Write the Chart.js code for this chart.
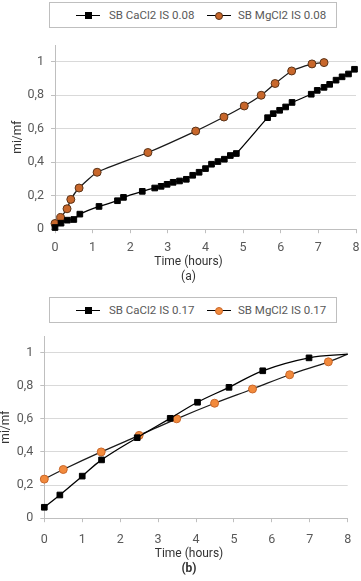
<!DOCTYPE html>
<html>
<head>
<meta charset="utf-8">
<script src="https://cdn.jsdelivr.net/npm/chart.js@4.4.1/dist/chart.umd.min.js"></script>
<style>
    html, body { margin: 0; padding: 0; background: #fff; overflow: hidden; }
    body { width: 361px; height: 581px; position: relative; font-family: Roboto, sans-serif; }
    .chart-box { position: absolute; left: 0; width: 361px; }
    .legend {
        position: absolute; left: 49px; width: 286px; height: 24px;
        border: 1px solid #bfbfbf; background: #fff; z-index: 2;
    }
    .legend .item { position: absolute; top: 0; height: 24px; }
    .legend .line { position: absolute; top: 12px; width: 24px; border-top: 1.3px solid #000; }
    .legend .mark { position: absolute; }
    .legend .sq { width: 7px; height: 7px; background: #000; top: 9px; left: 9px; }
    .legend .dot { width: 7px; height: 7px; border-radius: 50%; top: 8.5px; left: 8px; }
    .legend .txt { position: absolute; top: 5px; font-size: 11.5px; color: #595959; white-space: nowrap; }
</style>
</head>
<body>
<div class="legend" id="legend-a" style="top:2px;"></div>
<div class="chart-box" style="top:0; height:284px;"><canvas id="chart-a"></canvas></div>

<div class="legend" id="legend-b" style="top:297px;"></div>
<div class="chart-box" style="top:285px; height:291px;"><canvas id="chart-b"></canvas></div>

<script>
// (a) IS 0.08
const labelsA = ['SB CaCl2 IS 0.08', 'SB MgCl2 IS 0.08'];
const caTimeA = [0, 0.16, 0.33, 0.5, 0.66, 1.17, 1.66, 1.82, 2.32, 2.65, 2.82, 2.98, 3.14, 3.31, 3.49, 3.66, 3.83,
    4.0, 4.16, 4.33, 4.5, 4.66, 4.82, 5.65, 5.8, 5.97, 6.13, 6.3, 6.81, 6.97, 7.15, 7.3, 7.47, 7.63, 7.8, 7.96];
const caRatioA = [0.01, 0.036, 0.054, 0.058, 0.09, 0.136, 0.17, 0.19, 0.226, 0.246, 0.256, 0.268, 0.28, 0.288, 0.298, 0.322, 0.34,
    0.362, 0.388, 0.404, 0.418, 0.44, 0.452, 0.666, 0.69, 0.71, 0.73, 0.757, 0.806, 0.829, 0.847, 0.865, 0.89, 0.91, 0.927, 0.955];
const mgTimeA = [0, 0.15, 0.32, 0.42, 0.64, 1.12, 2.47, 3.74, 4.49, 5.03, 5.48, 5.85, 6.29, 6.83, 7.15];
const mgRatioA = [0.034, 0.07, 0.122, 0.178, 0.246, 0.34, 0.458, 0.586, 0.67, 0.736, 0.80, 0.87, 0.945, 0.987, 0.995];

// (b) IS 0.17
const labelsB = ['SB CaCl2 IS 0.17', 'SB MgCl2 IS 0.17'];
const caTimeB = [0, 0.41, 1.0, 1.51, 2.45, 3.32, 4.04, 4.87, 5.76, 6.98, 8];
const caRatioB = [0.066, 0.14, 0.254, 0.352, 0.486, 0.603, 0.70, 0.79, 0.89, 0.968, 0.99];
const mgTimeB = [0, 0.5, 1.5, 2.5, 3.49, 4.49, 5.49, 6.47, 7.49, 8];
const mgRatioB = [0.236, 0.294, 0.40, 0.50, 0.60, 0.694, 0.78, 0.866, 0.944, 0.99];

// 軸の目盛り
const yTicks = [0, 0.2, 0.4, 0.6, 0.8, 1];
const xTitle = 'Time (hours)';
const yTitle = 'mi/mf';

const GRID = '#d9d9d9';
const AXIS = '#bfbfbf';
const TEXT = '#595959';

function toPoints(xs, ys) {
    return xs.map((x, i) => ({ x, y: ys[i] }));
}

// 凡例 (枠付き) を HTML で作る
function buildLegend(id, labels, orange, orangeEdge) {
    const el = document.getElementById(id);
    el.innerHTML = `
        <div class="item" style="left:26px;">
            <span class="line"></span><span class="mark sq"></span>
            <span class="txt" style="left:33px;">${labels[0]}</span>
        </div>
        <div class="item" style="left:157px;">
            <span class="line"></span>
            <span class="mark dot" style="background:${orange};border:1px solid ${orangeEdge};width:6px;height:6px;"></span>
            <span class="txt" style="left:31px;">${labels[1]}</span>
        </div>`;
}

function makeChart(canvasId, o) {
    const lastHidden = len => ctx => (o.hideLast && ctx.dataIndex === len - 1) ? 0 : o.radius;
    return new Chart(document.getElementById(canvasId), {
        type: 'scatter',
        data: {
            datasets: [{
                label: o.labels[0],
                data: toPoints(o.caX, o.caY),
                showLine: true,
                borderColor: '#000',
                borderWidth: 1.3,
                tension: o.tension,
                pointStyle: 'rect',
                pointRadius: lastHidden(o.caX.length),
                pointBackgroundColor: '#000',
                pointBorderColor: '#000',
                pointBorderWidth: 1,
                clip: false
            }, {
                label: o.labels[1],
                data: toPoints(o.mgX, o.mgY),
                showLine: true,
                borderColor: '#1a1a1a',
                borderWidth: 1.3,
                tension: o.tension,
                pointStyle: 'circle',
                pointRadius: lastHidden(o.mgX.length),
                pointBackgroundColor: o.orange,
                pointBorderColor: o.orangeEdge,
                pointBorderWidth: 1,
                clip: false
            }]
        },
        options: {
            responsive: true,
            maintainAspectRatio: false,
            animation: false,
            layout: { padding: { left: o.padLeft, right: 0, top: o.padTop, bottom: 0 } },
            plugins: {
                legend: { display: false },
                tooltip: { enabled: false },
                title: {
                    display: true, position: 'bottom', text: o.caption, color: '#333',
                    font: { family: 'Roboto', size: 12, weight: o.captionWeight, lineHeight: 1.2 },
                    padding: { top: 0, bottom: 0 }
                },
                subtitle: {
                    display: true, position: 'bottom', text: xTitle, color: '#333',
                    font: { family: 'Roboto', size: 12, lineHeight: 1.2 },
                    padding: { top: 1, bottom: 0 }
                }
            },
            scales: {
                x: {
                    type: 'linear', min: 0, max: 8,
                    ticks: { stepSize: 1, color: TEXT, padding: o.xTickPad, font: { family: 'Roboto', size: 12.5 } },
                    grid: { drawOnChartArea: false, drawTicks: true, tickLength: 4, color: AXIS },
                    border: { color: AXIS },
                    afterFit: s => { s.height = o.xHeight; s.paddingRight = o.rightGap; }
                },
                y: {
                    type: 'linear', min: 0, max: 1.1,
                    afterBuildTicks: s => { s.ticks = yTicks.map(v => ({ value: v })); },
                    ticks: {
                        color: TEXT, padding: 7, font: { family: 'Roboto', size: 12.5 },
                        callback: v => String(v).replace('.', ',')
                    },
                    grid: { color: GRID, tickLength: 4, tickColor: AXIS },
                    border: { color: AXIS },
                    title: {
                        display: true, text: yTitle, color: '#333',
                        font: { family: 'Roboto', size: 12, lineHeight: 1 },
                        padding: { top: o.yTitlePad, bottom: 0 }
                    },
                    afterFit: s => { s.width = o.yWidth; }
                }
            }
        }
    });
}

buildLegend('legend-a', labelsA, '#c8672b', '#5a3318');
buildLegend('legend-b', labelsB, '#f28a3c', '#c8672b');

makeChart('chart-a', {
    labels: labelsA, caX: caTimeA, caY: caRatioA, mgX: mgTimeA, mgY: mgRatioA,
    orange: '#c8672b', orangeEdge: '#5a3318', radius: 4, tension: 0.15, hideLast: false,
    caption: '(a)', captionWeight: 'normal',
    padLeft: 16, padTop: 45, yWidth: 39, yTitlePad: -4.5, xHeight: 25, xTickPad: 7, rightGap: -1
});

makeChart('chart-b', {
    labels: labelsB, caX: caTimeB, caY: caRatioB, mgX: mgTimeB, mgY: mgRatioB,
    orange: '#f28a3c', orangeEdge: '#c8672b', radius: 4, tension: 0.4, hideLast: true,
    caption: '(b)', captionWeight: 'bold',
    padLeft: 17, padTop: 51, yWidth: 27.3, yTitlePad: -17, xHeight: 28, xTickPad: 10, rightGap: 13.3
});
</script>
</body>
</html>
